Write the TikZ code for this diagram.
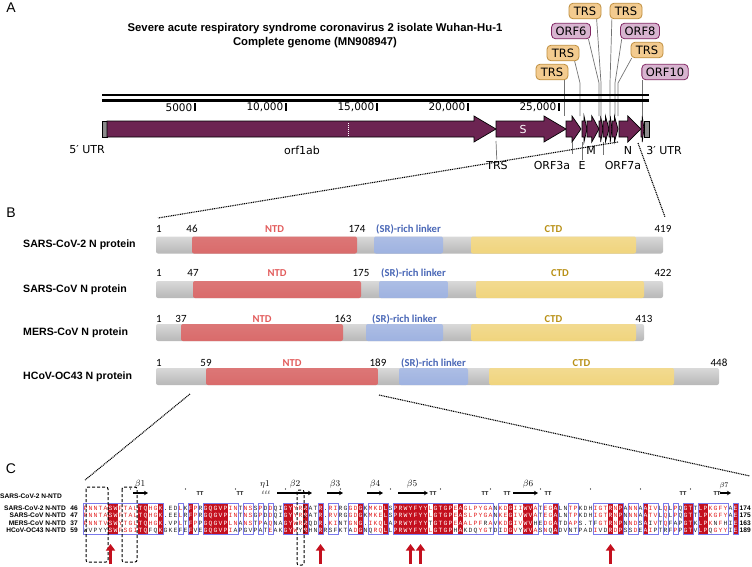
\documentclass[tikz,border=0pt]{standalone}
\usepackage{fontspec}
\setmainfont{Liberation Sans}
\newfontfamily\verdfont{DejaVu Sans}
\newfontfamily\calfont{Carlito}
\newfontfamily\seqfont{Liberation Mono}
\usetikzlibrary{arrows.meta}

\definecolor{genecol}{RGB}{108,36,82}
\definecolor{utrgray}{RGB}{140,140,140}
\definecolor{trsfill}{RGB}{243,203,143}
\definecolor{trsline}{RGB}{190,142,62}
\definecolor{orffill}{RGB}{216,180,208}
\definecolor{orfline}{RGB}{128,38,98}
\definecolor{ntdcol}{RGB}{217,107,107}
\definecolor{linkcol}{RGB}{158,178,224}
\definecolor{ctdcol}{RGB}{240,212,125}
\definecolor{ntdtxt}{RGB}{226,92,92}
\definecolor{linktxt}{RGB}{72,102,182}
\definecolor{ctdtxt}{RGB}{184,144,22}
\definecolor{espred}{RGB}{196,16,30}
\definecolor{esptxt}{RGB}{226,32,32}
\definecolor{espblue}{RGB}{122,122,236}

\tikzset{
  panel/.style={font=\fontsize{14}{14}\selectfont, inner sep=0pt},
  callout/.style={rounded corners=4pt, line width=0.8pt, inner xsep=4pt, inner ysep=1pt,
    minimum height=15.5pt, font=\verdfont\fontsize{11.5}{11.5}\selectfont},
  trsbox/.style={callout, fill=trsfill, draw=trsline, minimum width=32pt},
  orfbox/.style={callout, fill=orffill, draw=orfline},
  pointer/.style={draw=black!55, line width=0.7pt},
  genelab/.style={font=\verdfont\fontsize{11}{11}\selectfont, inner sep=1pt},
  genebox/.style={fill=genecol, draw=black, line width=0.7pt},
  zoomline/.style={line width=1.1pt, dash pattern=on 1pt off 0.8pt},
  protname/.style={font=\bfseries\fontsize{10.6}{10.6}\selectfont, inner sep=0pt, anchor=west},
  numlab/.style={font=\calfont\fontsize{11}{11}\selectfont, inner sep=0pt},
  domlab/.style={font=\calfont\bfseries\fontsize{10.6}{10.6}\selectfont, inner sep=0pt},
  seq/.style={font=\seqfont\fontsize{6.4}{6.4}\selectfont, inner sep=0pt, anchor=base},
  seqname/.style={font=\bfseries\fontsize{6.6}{6.6}\selectfont, inner sep=0pt},
  betalab/.style={font=\fontsize{9}{9}\selectfont, inner sep=0pt},
  ttlab/.style={font=\bfseries\fontsize{5.5}{5.5}\selectfont, inner sep=0pt},
  sheet/.style={line width=1.1pt, -{Stealth[length=4pt,width=4.5pt]}},
  dashbox/.style={line width=1pt, dash pattern=on 3pt off 2pt, rounded corners=2pt},
  hotspot/.style={draw=espred, line width=3pt, -{Triangle[length=6.5pt,width=9pt]}}
}

\begin{document}
\begin{tikzpicture}[x=1pt,y=-1pt]
\useasboundingbox (0,0) rectangle (752,566);

% ---------------- A: genome ----------------
\node[panel] (labA) at (11,8) {A};
\node[font=\bfseries\fontsize{11.3}{14}\selectfont, align=center] (title) at (315,36)
  {Severe acute respiratory syndrome coronavirus 2 isolate Wuhan-Hu-1\\Complete genome (MN908947)};

% callouts
\node[trsbox] (trs1) at (552,72) {TRS};
\node[trsbox] (trs2) at (563,53) {TRS};
\node[orfbox] (orf6) at (571,31) {ORF6};
\node[trsbox] (trs3) at (585,11) {TRS};
\node[trsbox] (trs4) at (626,11) {TRS};
\node[orfbox] (orf8) at (640,31) {ORF8};
\node[trsbox] (trs5) at (647,50) {TRS};
\node[orfbox] (orf10) at (665,72) {ORF10};

\coordinate (g1) at (564,116);
\coordinate (k2) at (580,83);  \coordinate (g2) at (580,116);
\coordinate (k6) at (599,83);  \coordinate (g6) at (599,116);
\coordinate (k3) at (601,83);  \coordinate (g3) at (601,116);
\coordinate (k4) at (610,83);  \coordinate (g4) at (610,116);
\coordinate (k8) at (615,83);  \coordinate (g8) at (615,116);
\coordinate (k5) at (618,83);  \coordinate (g5) at (618,116);
\coordinate (g10) at (642,116);

\draw[pointer] (trs1.south -| g1) -- (g1);
\draw[pointer] (trs2.-35) -- (k2) -- (g2);
\draw[pointer] (orf6.-25) -- (k6) -- (g6);
\draw[pointer] (trs3.-35) -- (k3) -- (g3);
\draw[pointer] (trs4.210) -- (k4) -- (g4);
\draw[pointer] (orf8.204) -- (k8) -- (g8);
\draw[pointer] (trs5.208) -- (k5) -- (g5);
\draw[pointer] (orf10.south -| g10) -- (g10);

% ruler
\draw[line width=2.4pt] (102,95) -- (649,95);
\draw[line width=2.4pt] (102,100.5) -- (649,100.5);
\foreach \p/\t [count=\i] in {195/5000, 286/{10,000}, 377/{15,000}, 468/{20,000}, 559/{25,000}} {
  \fill (\p-1,103) rectangle (\p+1,111);
  \node[genelab, anchor=east, font=\verdfont\fontsize{10.5}{10.5}\selectfont] (tick\i) at (\p-1.5,107.5) {\t};
}

% genes
\filldraw[fill=utrgray, draw=black, line width=0.7pt] (102,121) rectangle (107,137);
\foreach \gs/\ge in {107/496, 496/566, 566/581, 582/587, 587/599, 599/603, 603/609, 609/612, 612/618, 619/641, 641/644} {
  \pgfmathsetmacro\hd{min(22,0.6*(\ge-\gs))}
  \filldraw[genebox] (\gs,121) -- ({\ge-\hd},121) -- ({\ge-\hd},116) -- (\ge,129)
    -- ({\ge-\hd},142) -- ({\ge-\hd},137) -- (\gs,137) -- cycle;
}
\filldraw[fill=utrgray, draw=black, line width=0.7pt] (644,121) rectangle (649,137);
\draw[white, line width=0.8pt, dash pattern=on 1pt off 1pt] (348,123) -- (348,136);
\node[genelab, text=white] (sgene) at (523,129) {S};

% gene names
\node[genelab] (utr5) at (87,150) {5′ UTR};
\node[genelab] (orf1ab) at (302,150) {orf1ab};
\node[genelab] (trsS) at (497,165) {TRS};
\node[genelab] (orf3a) at (552,165) {ORF3a};
\node[genelab] (egene) at (582,165) {E};
\node[genelab] (mgene) at (591,150) {M};
\node[genelab] (orf7a) at (623,165) {ORF7a};
\node[genelab] (ngene) at (628,150) {N};
\node[genelab] (utr3) at (664,150) {3′ UTR};
\coordinate (sS) at (496,141);
\coordinate (s3a) at (572,142); \coordinate (e3a) at (572,154);
\coordinate (sE) at (582,142);
\coordinate (s7a) at (603,142); \coordinate (e7a) at (603,155);
\draw[pointer] (sS) -- (trsS);
\draw[pointer] (s3a) -- (e3a);
\draw[pointer] (sE) -- (egene);
\draw[pointer] (s7a) -- (e7a);

% zoom lines A -> B
\coordinate (nL) at (618,142); \coordinate (bL) at (158,218);
\coordinate (nR) at (638,143); \coordinate (bR) at (665,217);
\draw[zoomline] (nL) -- (bL);
\draw[zoomline] (nR) -- (bR);

% ---------------- B: N proteins ----------------
\node[panel] (labB) at (11,213) {B};
\foreach \pname/\yc/\yn/\len/\ns/\ne/\ls/\le/\cs/\ce/\na/\nb/\nl [count=\i] in {
  SARS-CoV-2 N protein/245/229/663/192/357/374/443/471/636/46/174/419,
  SARS-CoV N protein/289.5/273/663/193/361/379/448/476/644/47/175/422,
  MERS-CoV N protein/332.5/319/644/181/343/366/443/471/636/37/163/413,
  HCoV-OC43 N protein/376.5/363/719/206/378/399/468/489/674/59/189/448} {
  \node[protname] (prot\i) at (23,\yc) {\pname};
  \shade[rounded corners=2pt, top color=black!15, bottom color=black!28] (156,\yc-8.5) rectangle (\len,\yc+8.5);
  \shade[rounded corners=2pt, top color=ntdcol!92, bottom color=ntdcol] (\ns,\yc-8.5) rectangle (\ne,\yc+8.5);
  \shade[rounded corners=2pt, top color=linkcol!85, bottom color=linkcol] (\ls,\yc-8.5) rectangle (\le,\yc+8.5);
  \shade[rounded corners=2pt, top color=ctdcol!85, bottom color=ctdcol] (\cs,\yc-8.5) rectangle (\ce,\yc+8.5);
  \node[numlab] (one\i) at (159,\yn) {1};
  \node[numlab] (nts\i) at (\ns,\yn) {\na};
  \node[numlab] (nte\i) at (\ne,\yn) {\nb};
  \node[numlab] (end\i) at (\len,\yn) {\nl};
  \node[domlab, text=ntdtxt] (ntd\i) at ({(\ns+\ne)/2},\yn) {NTD};
  \node[domlab, text=linktxt] (lnk\i) at ({(\ls+\le)/2},\yn) {(SR)-rich linker};
  \node[domlab, text=ctdtxt] (ctd\i) at ({(\cs+\ce)/2},\yn) {CTD};
}

% zoom lines B -> C
\coordinate (ntdL) at (190,394); \coordinate (cL) at (85,480);
\coordinate (ntdR) at (379,395); \coordinate (cR) at (750,476);
\draw[zoomline] (ntdL) -- (cL);
\draw[zoomline] (ntdR) -- (cR);

% ---------------- C: alignment ----------------
\node[panel] (labC) at (11,469) {C};
\node[seqname, anchor=west] (ssname) at (0,496) {SARS-CoV-2 N-NTD};
\foreach \nm/\na/\nb [count=\r] in {SARS-CoV-2 N-NTD/46/174, SARS-CoV N-NTD/47/175, MERS-CoV N-NTD/37/163, HCoV-OC43 N-NTD/59/189} {
  \node[seqname, anchor=east] (name\r) at (66,{508+7.5*(\r-1)}) {\nm};
  \node[seqname, anchor=east] (first\r) at (78,{508+7.5*(\r-1)}) {\na};
  \node[seqname, anchor=west] (last\r) at (739.5,{508+7.5*(\r-1)}) {\nb};
}

% residues: row1/row2/row3/row4/class
\foreach \qa/\qb/\qc/\qd/\qk [count=\k] in {
  P/P/P/W/T, N/N/N/V/T, N/N/N/P/T, T/T/T/Y/T, A/A/V/Y/T, S/S/S/S/I, W/W/W/W/I, F/F/Y/F/S, T/T/T/S/S, A/A/G/G/S,
  L/L/L/I/S, T/T/T/T/I, Q/Q/Q/Q/I, H/H/H/F/T, G/G/G/Q/T, K/K/K/K/I, ./././G/N, E/E/V/K/N, D/E/P/E/N, L/L/L/F/T,
  K/R/T/E/N, F/F/F/F/I, P/P/P/V/T, R/R/P/E/N, G/G/G/G/I, Q/Q/Q/Q/I, G/G/G/G/I, V/V/V/V/I, P/P/P/P/I, I/I/L/I/S,
  N/N/N/A/T, T/T/A/P/N, N/N/N/G/T, S/S/S/V/T, S/G/T/P/N, P/P/P/A/T, D/D/A/T/N, D/D/Q/E/S, Q/Q/N/A/N, I/I/A/K/N,
  G/G/G/G/I, Y/Y/Y/Y/I, Y/Y/W/W/S, R/R/R/Y/T, R/R/R/R/I, A/A/Q/H/N, T/T/D/N/N, R/R/R/R/I, ./././R/N, R/R/K/S/T,
  I/V/I/F/T, R/R/N/K/N, G/G/T/T/N, G/G/G/A/T, D/D/N/D/S, G/G/G/G/I, K/K/./N/N, M/M/I/Q/T, K/K/K/R/S, D/E/Q/Q/S,
  L/L/L/L/I, S/S/A/L/N, P/P/P/P/I, R/R/R/R/I, W/W/W/W/I, Y/Y/Y/Y/I, F/F/F/F/I, Y/Y/Y/Y/I, Y/Y/Y/Y/I, L/L/T/L/U,
  G/G/G/G/I, T/T/T/T/I, G/G/G/G/I, P/P/P/P/I, E/E/E/H/T, A/A/A/A/I, G/S/A/K/T, L/L/L/D/T, P/P/P/Q/T, Y/Y/F/Y/S,
  G/G/R/G/U, A/A/A/T/T, N/N/V/D/N, K/K/K/I/T, D/E/D/D/S, G/G/G/G/I, I/I/I/V/S, I/V/V/Y/T, W/W/W/W/I, V/V/V/V/I,
  A/A/H/A/U, T/T/E/S/N, E/E/D/N/S, G/G/G/Q/T, A/A/A/A/I, L/L/T/D/N, N/N/D/V/N, T/T/A/N/T, P/P/P/T/T, K/K/S/P/N,
  D/D/./A/N, H/H/T/D/N, I/I/F/I/U, G/G/G/V/T, T/T/T/D/T, R/R/R/R/I, N/N/N/D/S, P/P/P/P/I, A/N/N/S/N, N/N/N/S/T,
  N/N/D/D/S, A/A/S/E/N, A/A/A/A/I, I/T/I/I/U, V/V/V/P/T, L/L/T/T/N, Q/Q/Q/R/T, L/L/F/F/N, P/P/A/P/U, Q/Q/P/P/N,
  G/G/G/G/I, T/T/T/T/I, T/T/K/V/N, L/L/L/L/I, P/P/P/P/I, K/K/K/Q/T, G/G/N/G/U, F/F/F/Y/S, Y/Y/H/Y/U, A/A/I/I/N,
  E/E/E/E/I} {
  \pgfmathsetmacro\xc{83+5*(\k-0.5)}
  \def\ca{black!85}\def\cb{black!85}\def\cc{black!85}\def\cd{black!85}
  \if\qk I
    \fill[espred] ({\xc-2.5},503.5) rectangle ({\xc+2.5},534.5);
    \def\ca{white}\def\cb{white}\def\cc{white}\def\cd{white}
  \fi
  \if\qk S \def\ca{esptxt}\def\cb{esptxt}\def\cc{esptxt}\def\cd{esptxt}\fi
  \if\qk T \def\ca{esptxt}\def\cb{esptxt}\def\cc{esptxt}\fi
  \if\qk U \def\ca{esptxt}\def\cb{esptxt}\def\cd{esptxt}\fi
  \node[seq, text=\ca] (ra\k) at (\xc,510.3) {\qa};
  \node[seq, text=\cb] (rb\k) at (\xc,517.8) {\qb};
  \node[seq, text=\cc] (rc\k) at (\xc,525.3) {\qc};
  \node[seq, text=\cd] (rd\k) at (\xc,532.8) {\qd};
}
\foreach \s/\e in {1/16, 20/20, 22/23, 25/31, 33/34, 36/36, 38/38, 41/45, 48/48, 50/51, 54/56, 58/61,
  63/82, 84/91, 93/95, 98/99, 103/108, 110/111, 113/115, 117/117, 119/119, 121/122, 124/129, 131/131}
  \draw[espblue, line width=0.6pt] ({83+5*(\s-1)},503.5) rectangle ({83+5*\e},534.5);

% secondary structure
\foreach \k in {10,21,31,41,52,62,72,82,92,102,112,122}
  \fill ({83+5*(\k-0.5)},489) circle (0.6);
\foreach \x [count=\i] in {200,240,433,485,507,548,683,717}
  \node[ttlab] (tt\i) at (\x,494) {TT};
\node[betalab] (beta1) at (140,484) {$\beta1$};
\node[betalab] (eta1) at (265,484) {$\eta1$};
\node[betalab] (coil1) at (266,493) {$\scriptscriptstyle\ell\ell\ell$};
\node[betalab] (beta2) at (295,484) {$\beta2$};
\node[betalab] (beta3) at (335,484) {$\beta3$};
\node[betalab] (beta4) at (375,484) {$\beta4$};
\node[betalab] (beta5) at (412,484) {$\beta5$};
\node[betalab] (beta6) at (528,484) {$\beta6$};
\node[betalab, font=\fontsize{7}{7}\selectfont] (beta7) at (724,486) {$\beta7$};
\draw[sheet] (133,493) -- (148,493);
\draw[sheet] (277,493) -- (312,493);
\draw[sheet] (327,493) -- (343,493);
\draw[sheet] (367,493) -- (383,493);
\draw[sheet] (398,493) -- (428,493);
\draw[sheet] (513,493) -- (538,493);
\draw[sheet] (720,493) -- (731,493);

% boxes and key residues
\draw[dashbox] (86,487) rectangle (108,562);
\draw[dashbox] (122,487) rectangle (137,562);
\draw[dashbox] (297,490) rectangle (304,565);
\foreach \k in {6,48,66,68,106}
  \draw[hotspot] ({83+5*(\k-0.5)},564) -- ({83+5*(\k-0.5)},544);
\end{tikzpicture}
\end{document}
